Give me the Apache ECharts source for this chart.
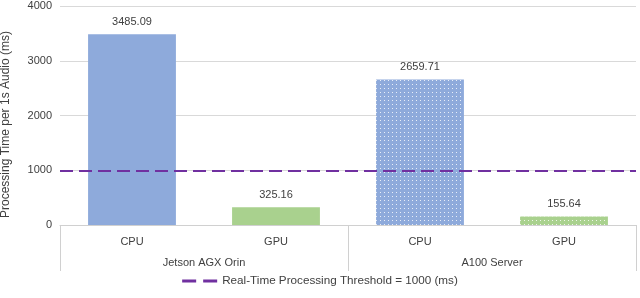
<!DOCTYPE html>
<html><head><meta charset="utf-8">
<script src="https://cdn.jsdelivr.net/npm/echarts@6/dist/echarts.min.js"></script>
<style>html,body{margin:0;padding:0;background:#fff}#c{width:640px;height:298px}</style>
</head><body><div id="c"></div>
<script>
const devices = ['CPU', 'GPU', 'CPU', 'GPU'];
const platforms = ['Jetson AGX Orin', 'A100 Server'];
const times = [3485.09, 325.16, 2659.71, 155.64];
const threshold = 1000;
const thresholdName = 'Real-Time Processing Threshold = 1000 (ms)';
const yTicks = [0, 1000, 2000, 3000, 4000];

const FONT = '"Liberation Sans", sans-serif';
const colors = ['#8eaadb', '#a9d18e', '#8eaadb', '#a9d18e'];
const dotted = [false, false, true, true];

const chart = echarts.init(document.getElementById('c'), null, {renderer: 'canvas'});
chart.setOption({
  animation: false,
  textStyle: {fontFamily: FONT},
  grid: {left: 60, right: 4, top: 6, bottom: 73, containLabel: false, outerBoundsMode: 'none'},
  legend: {
    bottom: 6, left: 'center',
    itemWidth: 35, itemHeight: 3, itemGap: 12,
    textStyle: {fontFamily: FONT, fontSize: 11.7, color: '#404040'},
    data: [{name: thresholdName, icon: 'path://M0,0H14V3H0Z M21,0H35V3H21Z', itemStyle: {color: '#7030a0'}}]
  },
  xAxis: [{
    type: 'category', data: devices, position: 'bottom',
    axisLine: {show: true, lineStyle: {color: '#d0d0d0'}},
    axisTick: {show: false},
    axisLabel: {fontFamily: FONT, fontSize: 11, color: '#404040', margin: 11}
  }, {
    type: 'category', data: platforms, position: 'bottom',
    axisLine: {show: false},
    axisTick: {show: true, length: 46, interval: 0, lineStyle: {color: '#d0d0d0'}},
    axisLabel: {fontFamily: FONT, fontSize: 11, color: '#404040', margin: 32}
  }],
  yAxis: {
    type: 'value', min: yTicks[0], max: yTicks[yTicks.length - 1], interval: 1000,
    name: 'Processing Time per 1s Audio (ms)', nameLocation: 'middle', nameGap: 48,
    nameTextStyle: {fontFamily: FONT, fontSize: 12, color: '#404040', padding: [0, 18, 0, 0]},
    axisLine: {show: false}, axisTick: {show: false},
    axisLabel: {fontFamily: FONT, fontSize: 11, color: '#404040', margin: 8, formatter: v => String(v)},
    splitLine: {lineStyle: {color: '#d9d9d9'}}
  },
  series: [{
    type: 'bar', xAxisIndex: 0, barWidth: '61%',
    data: times.map((v, i) => {
      const it = {color: colors[i]};
      if (dotted[i]) it.decal = {symbol: 'rect', symbolSize: 1, dashArrayX: [1, 2.3], dashArrayY: [1, 2.3], color: 'rgba(255,255,255,0.8)'};
      return {value: v, itemStyle: it};
    }),
    label: {show: true, position: 'top', distance: 7, fontFamily: FONT, fontSize: 11, color: '#404040',
      formatter: p => p.value.toFixed(2)}
  }, {
    type: 'line', name: thresholdName, data: [],
    symbol: 'none',
    lineStyle: {color: '#7030a0', width: 2.5, type: [13, 7]},
    itemStyle: {color: '#7030a0'},
    markLine: {
      silent: true, symbol: 'none', label: {show: false},
      lineStyle: {color: '#7030a0', width: 2.2, type: [13, 6]},
      data: [{yAxis: threshold}]
    }
  }]
});
</script></body></html>
